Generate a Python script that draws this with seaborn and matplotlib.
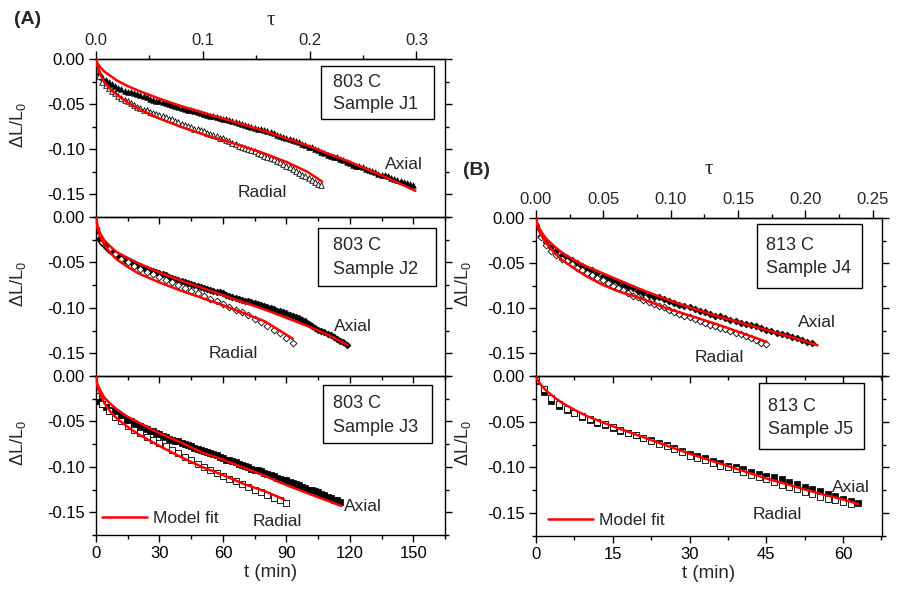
import matplotlib
matplotlib.use("Agg")
import matplotlib.pyplot as plt
import seaborn as sns
from matplotlib.ticker import MultipleLocator, FixedLocator, FormatStrFormatter, FuncFormatter
from matplotlib.patches import Rectangle
from matplotlib.lines import Line2D

# ---------------- data ----------------
# measurement times (min)
T15 = [0, 1.5, 3, 4.5, 6, 7.5, 9, 10.5, 12, 13.5, 15, 16.5, 18, 19.5, 21, 22.5, 24, 25.5, 27, 28.5,
       30, 31.5, 33, 34.5, 36, 37.5, 39, 40.5, 42, 43.5, 45, 46.5, 48, 49.5, 51, 52.5, 54, 55.5, 57, 58.5,
       60, 61.5, 63, 64.5, 66, 67.5, 69, 70.5, 72, 73.5, 75, 76.5, 78, 79.5, 81, 82.5, 84, 85.5, 87, 88.5,
       90, 91.5, 93, 94.5, 96, 97.5, 99, 100.5, 102, 103.5, 105, 106.5, 108, 109.5, 111, 112.5, 114, 115.5,
       117, 118.5, 120, 121.5, 123, 124.5, 126, 127.5, 129, 130.5, 132, 133.5, 135, 136.5, 138, 139.5,
       141, 142.5, 144, 145.5, 147, 148.5, 150]
T3 = T15[::2]
T1 = [0, 1, 2, 3, 4, 5, 6, 7, 8, 9, 10, 11, 12, 13, 14, 15, 16, 17, 18, 19, 20, 21, 22, 23, 24, 25, 26,
      27, 28, 29, 30, 31, 32, 33, 34, 35, 36, 37, 38, 39, 40, 41, 42, 43, 44, 45, 46, 47, 48, 49, 50,
      51, 52, 53, 54]

# Sample J1 (803 C), every 1.5 min
j1_axial = [-0.004, -0.014, -0.020, -0.023, -0.026, -0.028, -0.030, -0.032, -0.033, -0.035,
            -0.036, -0.037, -0.038, -0.039, -0.040, -0.041, -0.042, -0.044, -0.045, -0.046,
            -0.047, -0.048, -0.049, -0.050, -0.051, -0.052, -0.053, -0.054, -0.055, -0.056,
            -0.057, -0.058, -0.059, -0.060, -0.061, -0.062, -0.063, -0.063, -0.064, -0.065,
            -0.066, -0.067, -0.068, -0.069, -0.070, -0.071, -0.072, -0.073, -0.074, -0.075,
            -0.076, -0.077, -0.078, -0.079, -0.080, -0.081, -0.082, -0.084, -0.085, -0.086,
            -0.087, -0.089, -0.090, -0.091, -0.092, -0.094, -0.095, -0.097, -0.098, -0.100,
            -0.101, -0.103, -0.104, -0.106, -0.107, -0.108, -0.109, -0.111, -0.112, -0.114,
            -0.115, -0.117, -0.118, -0.119, -0.120, -0.122, -0.123, -0.124, -0.125, -0.127,
            -0.128, -0.129, -0.130, -0.132, -0.133, -0.134, -0.135, -0.136, -0.137, -0.139,
            -0.140]
j1_radial = [-0.010, -0.019, -0.025, -0.029, -0.032, -0.035, -0.038, -0.041, -0.043, -0.045,
             -0.047, -0.049, -0.051, -0.053, -0.054, -0.056, -0.057, -0.059, -0.060, -0.061,
             -0.062, -0.063, -0.064, -0.066, -0.067, -0.069, -0.070, -0.072, -0.073, -0.074,
             -0.075, -0.077, -0.078, -0.079, -0.080, -0.082, -0.083, -0.084, -0.085, -0.087,
             -0.088, -0.090, -0.091, -0.093, -0.094, -0.096, -0.097, -0.099, -0.100, -0.101,
             -0.102, -0.104, -0.105, -0.107, -0.108, -0.110, -0.111, -0.113, -0.114, -0.116,
             -0.118, -0.120, -0.122, -0.124, -0.126, -0.128, -0.130, -0.132, -0.134, -0.136,
             -0.138, -0.140]
j1_fit_axial_t = [0, 0.5, 1, 2, 4, 7, 10, 15, 20, 30, 40, 50, 60, 70, 80, 90, 100, 110, 120, 130, 140, 151]
j1_fit_axial = [0, -0.004, -0.006, -0.009, -0.014, -0.019, -0.024, -0.030, -0.035, -0.044, -0.052,
                -0.059, -0.066, -0.073, -0.080, -0.088, -0.096, -0.105, -0.114, -0.124, -0.134, -0.146]
j1_fit_radial_t = [0, 0.5, 1, 2, 4, 7, 10, 15, 20, 30, 40, 50, 60, 70, 80, 90, 100, 107]
j1_fit_radial = [0, -0.007, -0.010, -0.017, -0.026, -0.034, -0.040, -0.048, -0.055, -0.066, -0.075,
                 -0.083, -0.090, -0.097, -0.105, -0.114, -0.125, -0.136]

# Sample J2 (803 C): axial every 1.5 min, radial every 3 min
j2_axial = [-0.015, -0.024, -0.029, -0.033, -0.036, -0.039, -0.041, -0.043, -0.045, -0.047,
            -0.048, -0.050, -0.051, -0.053, -0.054, -0.056, -0.057, -0.058, -0.059, -0.061,
            -0.062, -0.063, -0.064, -0.066, -0.067, -0.068, -0.069, -0.070, -0.071, -0.073,
            -0.074, -0.075, -0.076, -0.077, -0.078, -0.079, -0.080, -0.081, -0.082, -0.083,
            -0.084, -0.086, -0.087, -0.088, -0.089, -0.090, -0.091, -0.092, -0.093, -0.094,
            -0.095, -0.096, -0.097, -0.098, -0.099, -0.100, -0.101, -0.103, -0.104, -0.105,
            -0.106, -0.108, -0.109, -0.110, -0.111, -0.113, -0.115, -0.118, -0.120, -0.122,
            -0.124, -0.126, -0.127, -0.129, -0.130, -0.132, -0.134, -0.136, -0.138, -0.141]
j2_radial = [-0.012, -0.027, -0.035, -0.041, -0.046, -0.050, -0.054, -0.057, -0.060, -0.063,
             -0.066, -0.069, -0.072, -0.075, -0.078, -0.081, -0.084, -0.087, -0.090, -0.093,
             -0.096, -0.099, -0.102, -0.105, -0.108, -0.112, -0.116, -0.120, -0.124, -0.128,
             -0.133, -0.139]
j2_fit_axial_t = [0, 0.5, 1, 2, 4, 7, 10, 15, 20, 30, 40, 50, 60, 70, 80, 90, 100, 110, 119]
j2_fit_axial = [0, -0.007, -0.012, -0.018, -0.026, -0.033, -0.039, -0.045, -0.051, -0.061, -0.070,
                -0.078, -0.086, -0.094, -0.102, -0.111, -0.120, -0.130, -0.141]
j2_fit_radial_t = [0, 0.5, 1, 2, 4, 7, 10, 15, 20, 30, 40, 50, 60, 70, 80, 93]
j2_fit_radial = [0, -0.010, -0.015, -0.022, -0.031, -0.040, -0.047, -0.055, -0.062, -0.072, -0.081,
                 -0.089, -0.097, -0.106, -0.115, -0.134]

# Sample J3 (803 C): axial every 1.5 min, radial every 3 min
j3_axial = [-0.022, -0.027, -0.031, -0.034, -0.037, -0.039, -0.041, -0.043, -0.045, -0.047,
            -0.049, -0.050, -0.052, -0.054, -0.055, -0.057, -0.058, -0.060, -0.061, -0.063,
            -0.064, -0.066, -0.067, -0.069, -0.070, -0.071, -0.072, -0.074, -0.075, -0.076,
            -0.077, -0.079, -0.080, -0.081, -0.082, -0.084, -0.085, -0.086, -0.087, -0.089,
            -0.090, -0.092, -0.093, -0.094, -0.095, -0.097, -0.098, -0.099, -0.100, -0.102,
            -0.103, -0.104, -0.105, -0.107, -0.108, -0.109, -0.110, -0.112, -0.113, -0.114,
            -0.115, -0.117, -0.118, -0.119, -0.120, -0.122, -0.123, -0.125, -0.126, -0.127,
            -0.128, -0.130, -0.131, -0.133, -0.134, -0.136, -0.137, -0.139]
j3_radial = [-0.022, -0.031, -0.039, -0.045, -0.050, -0.055, -0.059, -0.063, -0.067, -0.070,
             -0.074, -0.077, -0.081, -0.085, -0.089, -0.093, -0.097, -0.100, -0.103, -0.107,
             -0.110, -0.113, -0.116, -0.119, -0.122, -0.125, -0.128, -0.131, -0.134, -0.137,
             -0.140]
j3_fit_axial_t = [0, 0.5, 1, 2, 4, 7, 10, 15, 20, 30, 40, 50, 60, 70, 80, 90, 100, 116]
j3_fit_axial = [0, -0.008, -0.011, -0.016, -0.024, -0.031, -0.037, -0.045, -0.051, -0.063, -0.073,
                -0.084, -0.092, -0.101, -0.110, -0.120, -0.129, -0.143]
j3_fit_radial_t = [0, 0.5, 1, 2, 4, 7, 10, 15, 20, 30, 40, 50, 60, 70, 80, 89]
j3_fit_radial = [0, -0.010, -0.014, -0.020, -0.030, -0.040, -0.047, -0.056, -0.064, -0.077, -0.089,
                 -0.100, -0.109, -0.119, -0.127, -0.136]

# Sample J4 (813 C), every 1 min
j4_axial = [-0.008, -0.020, -0.027, -0.032, -0.037, -0.041, -0.044, -0.047, -0.050, -0.053,
            -0.056, -0.058, -0.061, -0.064, -0.066, -0.069, -0.071, -0.074, -0.076, -0.078,
            -0.081, -0.083, -0.085, -0.087, -0.088, -0.090, -0.092, -0.094, -0.096, -0.098,
            -0.099, -0.101, -0.103, -0.104, -0.106, -0.108, -0.109, -0.111, -0.113, -0.114,
            -0.116, -0.117, -0.119, -0.120, -0.122, -0.124, -0.125, -0.127, -0.129, -0.130,
            -0.132, -0.133, -0.135, -0.137, -0.138]
j4_radial = [-0.010, -0.021, -0.030, -0.036, -0.041, -0.045, -0.048, -0.051, -0.055, -0.058,
             -0.061, -0.063, -0.066, -0.069, -0.072, -0.075, -0.078, -0.080, -0.083, -0.086,
             -0.088, -0.091, -0.093, -0.095, -0.097, -0.099, -0.102, -0.104, -0.106, -0.108,
             -0.110, -0.112, -0.114, -0.116, -0.118, -0.120, -0.122, -0.123, -0.125, -0.127,
             -0.129, -0.131, -0.133, -0.135, -0.138, -0.140]
j4_fit_axial_t = [0, 0.25, 0.5, 1, 2, 3.5, 5, 7.5, 10, 15, 20, 25, 30, 35, 40, 45, 50, 55]
j4_fit_axial = [0, -0.006, -0.010, -0.015, -0.023, -0.031, -0.038, -0.047, -0.054, -0.066, -0.078,
                -0.089, -0.099, -0.108, -0.116, -0.124, -0.132, -0.141]
j4_fit_radial_t = [0, 0.25, 0.5, 1, 2, 3.5, 5, 7.5, 10, 13, 16, 20, 25, 30, 35, 40, 45]
j4_fit_radial = [0, -0.008, -0.013, -0.019, -0.028, -0.038, -0.046, -0.056, -0.065, -0.074, -0.081,
                 -0.088, -0.099, -0.108, -0.117, -0.127, -0.137]

# Sample J5 (813 C), every 1.5 min
j5_axial = [-0.006, -0.018, -0.027, -0.033, -0.037, -0.041, -0.045, -0.048, -0.051, -0.054,
            -0.057, -0.060, -0.062, -0.065, -0.068, -0.070, -0.073, -0.076, -0.079, -0.082,
            -0.085, -0.088, -0.090, -0.093, -0.095, -0.098, -0.100, -0.102, -0.105, -0.107,
            -0.109, -0.111, -0.113, -0.116, -0.118, -0.121, -0.124, -0.126, -0.129, -0.131,
            -0.134, -0.137, -0.139]
j5_radial = [-0.004, -0.014, -0.024, -0.031, -0.036, -0.040, -0.044, -0.047, -0.050, -0.053,
             -0.056, -0.059, -0.062, -0.065, -0.068, -0.071, -0.074, -0.077, -0.080, -0.083,
             -0.087, -0.090, -0.092, -0.095, -0.098, -0.100, -0.102, -0.105, -0.108, -0.111,
             -0.113, -0.116, -0.119, -0.121, -0.124, -0.127, -0.129, -0.132, -0.134, -0.136,
             -0.138, -0.140]
j5_fit_t = [0, 0.25, 0.5, 1, 2, 3.5, 5, 7.5, 10, 15, 20, 25, 30, 35, 40, 45, 50, 55, 60, 63]
j5_fit = [0, -0.004, -0.006, -0.010, -0.016, -0.023, -0.029, -0.037, -0.044, -0.055, -0.065,
          -0.075, -0.085, -0.094, -0.103, -0.112, -0.120, -0.128, -0.135, -0.140]

TEMPS = ["803 C", "803 C", "803 C", "813 C", "813 C"]
SAMPLES = ["Sample J1", "Sample J2", "Sample J3", "Sample J4", "Sample J5"]

# tau axis ticks (top of the upper panels)
TAU_LEFT = [0.0, 0.1, 0.2, 0.3]
TAU_LEFT_MINOR = [0.05, 0.15, 0.25]
TAU_RIGHT = [0.0, 0.05, 0.10, 0.15, 0.20, 0.25]
TAU_RIGHT_MINOR = [0.025, 0.075, 0.125, 0.175, 0.225]

# ---------------- figure ----------------
sns.set_theme(style="ticks")
plt.rcParams["font.family"] = ["Liberation Sans", "DejaVu Sans"]
plt.rcParams["axes.unicode_minus"] = False
plt.rcParams["mathtext.fontset"] = "custom"
plt.rcParams["mathtext.rm"] = "Liberation Sans"
plt.rcParams["mathtext.it"] = "Liberation Sans:italic"

fig = plt.figure(figsize=(9.09, 5.93), dpi=100)
W, H = 909, 593


def add_ax(x0, x1, top, bottom):
    return fig.add_axes([x0 / W, 1 - bottom / H, (x1 - x0) / W, (bottom - top) / H])


panels = [
    dict(ax=add_ax(96, 445, 59, 217), ta=T15, tr=T15, axial=j1_axial, radial=j1_radial,
         marker="^", ms=16,
         fits=[(j1_fit_axial_t, j1_fit_axial), (j1_fit_radial_t, j1_fit_radial)],
         box=(0.645, 0.62, 0.323, 0.336), ty=(0.854, 0.709), tx=0.679,
         lab_ax=(145.8, -0.117), lab_rad=(78.6, -0.148), side="L", top=True, bottom=False),
    dict(ax=add_ax(96, 445, 217, 376), ta=T15, tr=T3, axial=j2_axial, radial=j2_radial,
         marker="D", ms=12,
         fits=[(j2_fit_axial_t, j2_fit_axial), (j2_fit_radial_t, j2_fit_radial)],
         box=(0.636, 0.563, 0.338, 0.367), ty=(0.823, 0.669), tx=0.679,
         lab_ax=(121.6, -0.121), lab_rad=(64.8, -0.150), side="L", top=False, bottom=False),
    dict(ax=add_ax(96, 445, 376, 535), ta=T15, tr=T3, axial=j3_axial, radial=j3_radial,
         marker="s", ms=16,
         fits=[(j3_fit_axial_t, j3_fit_axial), (j3_fit_radial_t, j3_fit_radial)],
         box=(0.650, 0.576, 0.313, 0.367), ty=(0.827, 0.675), tx=0.679,
         lab_ax=(126.4, -0.144), lab_rad=(85.7, -0.160), side="L", top=False, bottom=True,
         legend=(0.017, 0.056)),
    dict(ax=add_ax(536, 882, 218, 376), ta=T1, tr=T1, axial=j4_axial, radial=j4_radial,
         marker="D", ms=12,
         fits=[(j4_fit_axial_t, j4_fit_axial), (j4_fit_radial_t, j4_fit_radial)],
         box=(0.639, 0.557, 0.303, 0.405), ty=(0.825, 0.683), tx=0.665,
         lab_ax=(54.9, -0.116), lab_rad=(35.8, -0.154), side="R", top=True, bottom=False),
    dict(ax=add_ax(536, 882, 376, 536), ta=T15, tr=T15, axial=j5_axial, radial=j5_radial,
         marker="s", ms=24,
         fits=[(j5_fit_t, j5_fit)],
         box=(0.645, 0.546, 0.303, 0.408), ty=(0.812, 0.665), tx=0.671,
         lab_ax=(61.6, -0.1215), lab_rad=(47.1, -0.152), side="R", top=False, bottom=True,
         legend=(0.035, 0.047)),
]

yfmt = FuncFormatter(lambda v, p: "0.00" if abs(v) < 1e-9 else f"{v:.2f}")

for i, p in enumerate(panels):
    ax = p["ax"]
    left = p["side"] == "L"
    n_ax, n_rad = len(p["axial"]), len(p["radial"])

    sns.scatterplot(x=p["ta"][:n_ax], y=p["axial"], marker=p["marker"], s=p["ms"], color="black",
                    edgecolor="black", linewidth=0.5, ax=ax, legend=False, zorder=2)
    sns.scatterplot(x=p["tr"][:n_rad], y=p["radial"], marker=p["marker"], s=p["ms"], color="white",
                    edgecolor="black", linewidth=0.6, ax=ax, legend=False, zorder=2)
    for ft, fv in p["fits"]:
        sns.lineplot(x=ft, y=fv, color="red", lw=1.8, ax=ax, estimator=None, sort=False,
                     legend=False, zorder=3)

    ax.set_facecolor("none")
    ax.set_xlim(0, 165 if left else 67.6)
    ax.set_ylim(-0.175, 0)
    ax.xaxis.set_major_locator(MultipleLocator(30 if left else 15))
    ax.xaxis.set_minor_locator(MultipleLocator(15 if left else 7.5))
    ax.yaxis.set_major_locator(MultipleLocator(0.05))
    ax.yaxis.set_minor_locator(MultipleLocator(0.025))
    ax.yaxis.set_major_formatter(yfmt)
    ax.tick_params(which="both", direction="out", left=True, right=True, bottom=True, top=False,
                   labelsize=12, width=1, color="black", labelcolor="black")
    ax.tick_params(which="major", length=5, pad=3)
    ax.tick_params(which="minor", length=3)
    for s in ax.spines.values():
        s.set_visible(True)
        s.set_linewidth(1)
        s.set_color("black")

    if p["bottom"]:
        ax.set_xlabel("t (min)", fontsize=13.5, labelpad=2)
    else:
        ax.tick_params(labelbottom=False)
        ax.set_xlabel("")

    ax.set_ylabel("ΔL/L$_0$", fontsize=13)
    ax.yaxis.set_label_coords(-0.195 if left else -0.182, 0.58)

    if p["top"]:
        k = 505.0 if left else 263.2
        sec = ax.secondary_xaxis("top", functions=(lambda x, k=k: x / k, lambda x, k=k: x * k))
        sec.xaxis.set_major_locator(FixedLocator(TAU_LEFT if left else TAU_RIGHT))
        sec.xaxis.set_minor_locator(FixedLocator(TAU_LEFT_MINOR if left else TAU_RIGHT_MINOR))
        sec.xaxis.set_major_formatter(FormatStrFormatter("%.1f" if left else "%.2f"))
        sec.tick_params(which="both", direction="out", labelsize=12, width=1, color="black")
        sec.tick_params(which="major", length=6, pad=2)
        sec.tick_params(which="minor", length=3)
        sec.spines["top"].set_linewidth(1)
        sec.set_xlabel("τ", fontsize=15, family="Liberation Serif", labelpad=6 if left else 13)

    bx, by, bw, bh = p["box"]
    ax.add_patch(Rectangle((bx, by), bw, bh, transform=ax.transAxes, facecolor="white",
                           edgecolor="black", lw=1, zorder=5))
    ax.text(p["tx"], p["ty"][0], TEMPS[i], transform=ax.transAxes, ha="left", va="center",
            fontsize=13, zorder=6)
    ax.text(p["tx"], p["ty"][1], SAMPLES[i], transform=ax.transAxes, ha="left", va="center",
            fontsize=13, zorder=6)

    ax.text(*p["lab_ax"], "Axial", ha="center", va="center", fontsize=12.5, zorder=6)
    ax.text(*p["lab_rad"], "Radial", ha="center", va="center", fontsize=12.5, zorder=6)

    if "legend" in p:
        ax.legend(handles=[Line2D([], [], color="red", lw=1.8)], labels=["Model fit"],
                  loc="lower left", bbox_to_anchor=p["legend"], frameon=False, fontsize=12.5,
                  handlelength=2.6, handletextpad=0.35, borderpad=0, borderaxespad=0)

fig.text(14 / W, 1 - 20 / H, "(A)", fontsize=14, fontweight="bold", ha="left", va="center")
fig.text(463 / W, 1 - 170 / H, "(B)", fontsize=14, fontweight="bold", ha="left", va="center")

fig.savefig("out.png", dpi=100)
